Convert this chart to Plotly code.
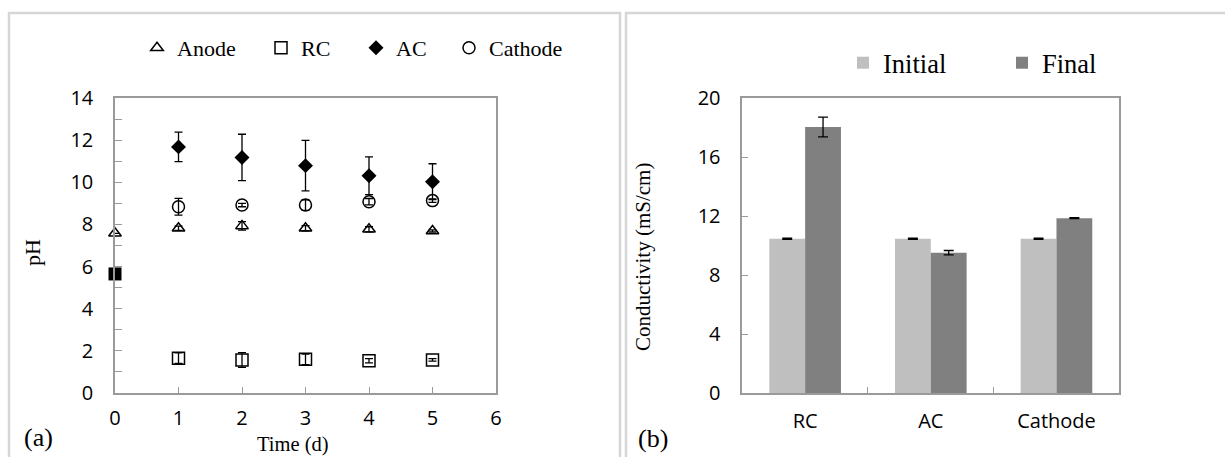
import plotly.graph_objects as go

W, H = 1225, 457

# ---- Panel (a): pH vs time ----
time_initial = [0]
ph_initial = [5.65]

anode_t = [0, 1, 2, 3, 4, 5]
anode_ph = [7.58, 7.82, 7.93, 7.82, 7.77, 7.69]
anode_err = [0, 0.1, 0.2, 0.12, 0.12, 0.05]

rc_t = [1, 2, 3, 4, 5]
rc_ph = [1.65, 1.57, 1.6, 1.53, 1.57]
rc_err = [0.25, 0.35, 0.25, 0.1, 0.06]

ac_t = [1, 2, 3, 4, 5]
ac_ph = [11.68, 11.18, 10.79, 10.31, 10.03]
ac_err = [0.7, 1.1, 1.2, 0.9, 0.85]

cath_t = [1, 2, 3, 4, 5]
cath_ph = [8.84, 8.92, 8.92, 9.08, 9.13]
cath_err = [0.4, 0.08, 0.25, 0.15, 0.08]

# ---- Panel (b): conductivity ----
chambers = ["RC", "AC", "Cathode"]
cond_initial = [10.45, 10.45, 10.45]
cond_initial_err = [0.04, 0.04, 0.04]
cond_final = [18.03, 9.51, 11.85]
cond_final_err = [0.67, 0.15, 0.03]

SERIF = "Liberation Serif, Times New Roman, serif"
SANS = "Open Sans, sans-serif"
AXC = "#9a9a9a"

fig = go.Figure()

def err(a):
    return dict(type="data", array=a, visible=True, color="black", thickness=1.3, width=4)

fig.add_trace(go.Scatter(x=anode_t, y=anode_ph, mode="markers", name="Anode",
                         marker=dict(symbol="triangle-up-open", size=11, color="black", line=dict(width=1.5)),
                         error_y=err(anode_err), cliponaxis=False, legend="legend"))
fig.add_trace(go.Scatter(x=rc_t, y=rc_ph, mode="markers", name="RC",
                         marker=dict(symbol="square-open", size=12, color="black", line=dict(width=1.5)),
                         error_y=err(rc_err), cliponaxis=False, legend="legend2"))
fig.add_trace(go.Scatter(x=ac_t, y=ac_ph, mode="markers", name="AC",
                         marker=dict(symbol="diamond", size=11.5, color="black"),
                         error_y=err(ac_err), cliponaxis=False, legend="legend3"))
fig.add_trace(go.Scatter(x=cath_t, y=cath_ph, mode="markers", name="Cathode",
                         marker=dict(symbol="circle-open", size=12, color="black", line=dict(width=1.5)),
                         error_y=err(cath_err), cliponaxis=False, legend="legend4"))
fig.add_trace(go.Scatter(x=time_initial, y=ph_initial, mode="markers", name="Initial pH",
                         marker=dict(symbol="square", size=13, color="black"),
                         cliponaxis=False, showlegend=False))

fig.add_trace(go.Bar(x=chambers, y=cond_initial, name="Initial", marker=dict(color="#bfbfbf", line=dict(width=0)),
                     error_y=dict(type="data", array=cond_initial_err, color="black", thickness=1.3, width=5),
                     xaxis="x2", yaxis="y2", legend="legend5"))
fig.add_trace(go.Bar(x=chambers, y=cond_final, name="Final", marker=dict(color="#808080", line=dict(width=0)),
                     error_y=dict(type="data", array=cond_final_err, color="black", thickness=1.3, width=5),
                     xaxis="x2", yaxis="y2", legend="legend6"))

ydom = [1 - 393 / H, 1 - 98 / H]
tickfont = dict(family=SANS, size=20, color="black")

def leg(xpx, ypx, size):
    return dict(orientation="h", x=xpx / W, y=1 - ypx / H, xanchor="left", yanchor="middle",
                font=dict(family=SERIF, size=size, color="black"), itemwidth=30,
                bgcolor="rgba(0,0,0,0)")

fig.update_layout(
    width=W, height=H,
    margin=dict(l=0, r=0, t=0, b=0, autoexpand=False),
    paper_bgcolor="white", plot_bgcolor="white",
    barmode="group", bargap=0.43, bargroupgap=0,
    xaxis=dict(domain=[115 / W, 496 / W], range=[0, 6], dtick=1, tick0=0,
               showline=True, mirror=True, linecolor=AXC, linewidth=1.5,
               ticks="inside", ticklen=6, tickcolor=AXC, tickwidth=1.3,
               showgrid=False, zeroline=False, tickfont=tickfont, ticklabelstandoff=6),
    yaxis=dict(domain=ydom, range=[0, 14], dtick=2, tick0=0,
               showline=True, mirror=True, linecolor=AXC, linewidth=1.5,
               ticks="inside", ticklen=7, tickcolor=AXC, tickwidth=1.3,
               minor=dict(dtick=1, ticks="inside", ticklen=7, tickcolor=AXC, tickwidth=1.3, showgrid=False),
               showgrid=False, zeroline=False, tickfont=tickfont, ticklabelstandoff=16),
    xaxis2=dict(domain=[742.3 / W, 1119.3 / W], anchor="y2", type="category",
                showline=True, mirror=True, linecolor=AXC, linewidth=1.5,
                ticks="inside", tickson="boundaries", ticklen=6, tickcolor=AXC, tickwidth=1.3,
                showgrid=False, zeroline=False, tickfont=tickfont, ticklabelstandoff=9),
    yaxis2=dict(domain=ydom, anchor="x2", range=[0, 20], dtick=4, tick0=0,
                showline=True, mirror=True, linecolor=AXC, linewidth=1.5,
                ticks="inside", ticklen=6, tickcolor=AXC, tickwidth=1.3,
                showgrid=False, zeroline=False, tickfont=tickfont, ticklabelstandoff=16),
    legend=leg(137, 48, 22),
    legend2=leg(261, 48, 22),
    legend3=leg(356, 48, 22),
    legend4=leg(449, 48, 22),
    legend5=leg(843, 63, 26.5),
    legend6=leg(1002, 63, 26.5),
    showlegend=True,
)

annos = [
    dict(text="pH", x=33 / W, y=1 - 253 / H, textangle=-90, font=dict(family=SERIF, size=22)),
    dict(text="Time (d)", x=293 / W, y=1 - 444 / H, font=dict(family=SERIF, size=20.5)),
    dict(text="Conductivity (mS/cm)", x=643 / W, y=1 - 257 / H, textangle=-90, font=dict(family=SERIF, size=21)),
    dict(text="(a)", x=38 / W, y=1 - 437 / H, font=dict(family=SERIF, size=26)),
    dict(text="(b)", x=653 / W, y=1 - 438 / H, font=dict(family=SERIF, size=26)),
]
for a in annos:
    a.update(xref="paper", yref="paper", showarrow=False, xanchor="center", yanchor="middle")
    a["font"]["color"] = "black"
fig.update_layout(annotations=annos)

# panel frames
fig.add_shape(type="rect", xref="paper", yref="paper", x0=9 / W, x1=620 / W, y0=-0.1, y1=1 - 13 / H,
              line=dict(color="#d6d6d6", width=2.5), layer="below")
fig.add_shape(type="rect", xref="paper", yref="paper", x0=626 / W, x1=1.1, y0=-0.1, y1=1 - 13 / H,
              line=dict(color="#d6d6d6", width=2.5), layer="below")

fig.write_html("out.html", config={"displayModeBar": False},
               post_script="document.body.style.margin='0';document.body.style.overflow='hidden';")
